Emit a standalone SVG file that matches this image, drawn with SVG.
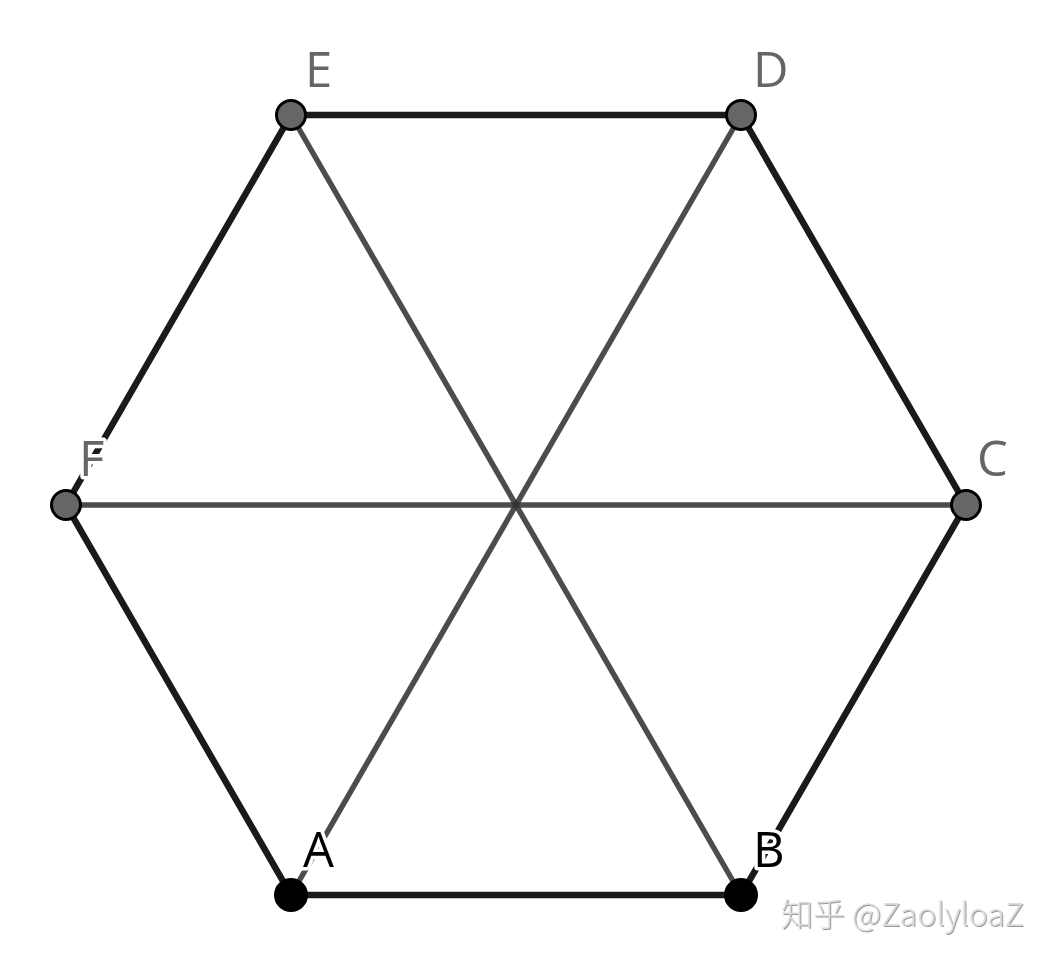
<svg xmlns="http://www.w3.org/2000/svg" width="1059" height="962" viewBox="0 0 1059 962">
<style>
.edge{stroke:#1a1a1a;stroke-width:6.5;stroke-linecap:round;fill:none}
.diag{stroke:#333;stroke-opacity:0.88;stroke-width:5.5;fill:none}
.pt{stroke:#000;stroke-width:3}
.gray{fill:#666}
.blk{fill:#000}
.lbl{font-family:"Open Sans","DejaVu Sans",sans-serif;font-size:49px;stroke:#fff;stroke-width:7;paint-order:stroke;stroke-linejoin:round}
.wm{font-family:"Noto Sans CJK SC","Open Sans",sans-serif;font-size:32px;font-weight:300}
</style>
<rect width="1059" height="962" fill="#fff"/>
<g id="connectors">
<line class="diag" x1="291" y1="115" x2="741" y2="895"/>
<line class="diag" x1="741" y1="115" x2="291" y2="895"/>
<line class="diag" x1="66" y1="505" x2="966" y2="505"/>
<polygon class="edge" points="291,115 741,115 966,505 741,895 291,895 66,505"/>
</g>
<g id="labels">
<text class="lbl" x="305" y="87" fill="#666">E</text>
<text class="lbl" x="753" y="87" fill="#666">D</text>
<text class="lbl" x="977" y="476" fill="#666">C</text>
<text class="lbl" x="79" y="476" fill="#666">F</text>
<text class="lbl" x="303" y="867" fill="#000">A</text>
<text class="lbl" x="753" y="867" fill="#000">B</text>
</g>
<g id="E"><circle class="pt gray" cx="291" cy="115" r="14.5"/></g>
<g id="D"><circle class="pt gray" cx="741" cy="115" r="14.5"/></g>
<g id="C"><circle class="pt gray" cx="966" cy="505" r="14.5"/></g>
<g id="F"><circle class="pt gray" cx="66" cy="505" r="14.5"/></g>
<g id="A"><circle class="pt blk" cx="291" cy="895" r="15.5"/></g>
<g id="B"><circle class="pt blk" cx="741" cy="895" r="15.5"/></g>
<g id="watermark">
<text class="wm" x="781" y="926" fill="#999" transform="translate(1,1)">知乎 @ZaolyloaZ</text>
<text class="wm" x="781" y="926" fill="#dcdcdc">知乎 @ZaolyloaZ</text>
</g>
</svg>
